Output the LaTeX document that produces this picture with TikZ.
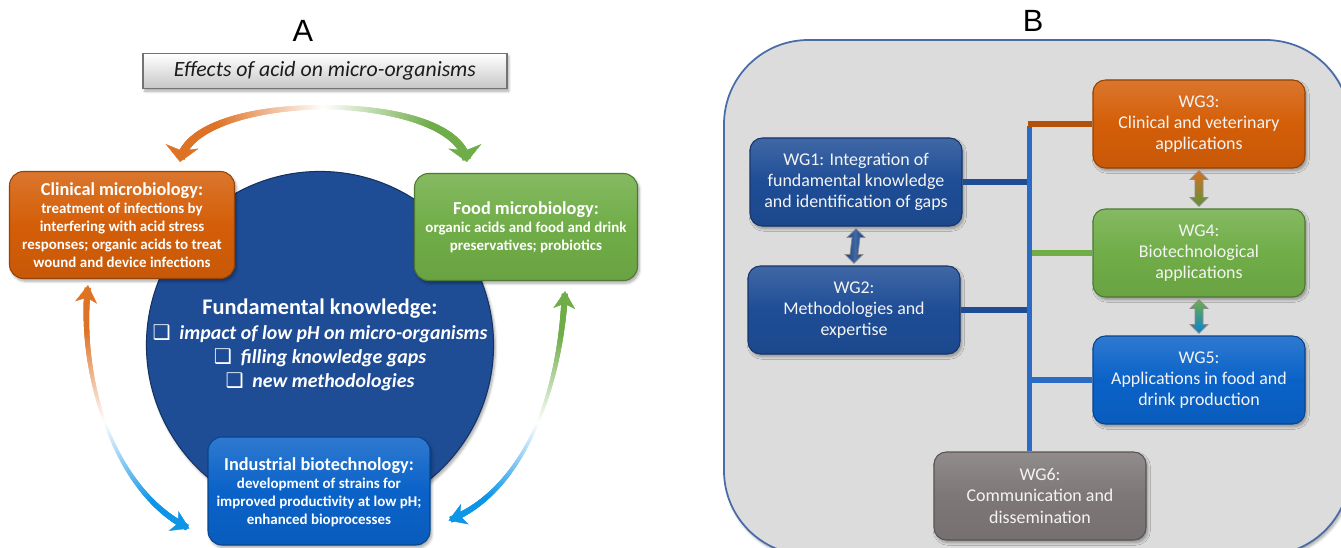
\documentclass[tikz,border=0pt]{standalone}
\usepackage{fontspec}
\setmainfont{Carlito}
\newfontfamily\panelfont{Liberation Sans}
\newfontfamily\boxglyph{DejaVu Sans}
\usepackage{tikz}
\usetikzlibrary{positioning,arrows.meta,calc,decorations.markings,shadows.blur}
\definecolor{ink}{HTML}{1C1C1C}
\definecolor{clinic}{HTML}{D45E08}
\definecolor{food}{HTML}{70AD47}
\definecolor{navy}{HTML}{1E4D96}
\definecolor{indus}{HTML}{0A62C8}
\definecolor{slate}{HTML}{7D7877}
\definecolor{panelbg}{HTML}{DCDCDC}
\definecolor{rim}{HTML}{4A6CA6}
\definecolor{bus}{HTML}{2A6BC6}
\definecolor{fadeor}{HTML}{DE7326}
\definecolor{fadegr}{HTML}{6EAD48}
\definecolor{fadebl}{HTML}{0E95E6}
\definecolor{paper}{HTML}{F4F4F4}
\tikzset{
  soft shadow/.style={blur shadow={shadow blur steps=6, shadow xshift=1pt,
    shadow yshift=-1.5pt, shadow blur radius=1.5pt, shadow opacity=35}},
  topic/.style={rounded corners=8pt, draw=#1!70!black, line width=0.6pt,
    top color=#1!85!white, bottom color=#1!94!black, middle color=#1,
    text=white, align=center, inner sep=2pt, soft shadow},
  field/.style={topic=#1, minimum width=44.6mm, minimum height=21.4mm,
    font=\bfseries\fontsize{8.5}{10.3}\selectfont},
  wg/.style={topic=#1, rounded corners=7pt, minimum width=42.4mm, minimum height=17.6mm,
    font=\fontsize{10.2}{12}\selectfont, text=paper},
  hub/.style={circle, fill=navy, draw=navy!65!black, line width=0.6pt, minimum size=69.2mm,
    inner sep=0pt, text=white, align=center, soft shadow,
    font=\bfseries\itshape\fontsize{11.3}{13.8}\selectfont},
  headline/.style={draw=black!55, line width=0.9pt, top color=white, bottom color=black!22,
    minimum width=72.8mm, minimum height=7mm, inner sep=0pt, text=ink, soft shadow,
    font=\itshape\fontsize{12.4}{14}\selectfont},
  panel label/.style={font=\panelfont\fontsize{17.5}{20}\selectfont, text=black},
  wire/.style={line width=3.3pt, color=#1},
  fade arc/.style n args={4}{postaction={decorate, decoration={markings,
    mark=between positions 0.015 and 0.985 step 0.004 with {
      \pgfmathsetmacro\fadet{\pgfkeysvalueof{/pgf/decoration/mark info/distance from start}/\pgfdecoratedpathlength}
      \pgfmathsetmacro\fadeu{abs(2*\fadet-1)}
      \pgfmathsetmacro\fadepct{min(100,150*\fadeu)}
      \pgfmathsetmacro\fadeh{(#4+(#3-#4)*\fadeu)/2}
      \ifdim\fadet pt<0.5pt\colorlet{fadec}{#1!\fadepct!white}\else\colorlet{fadec}{#2!\fadepct!white}\fi
      \fill[fadec] (-0.9pt,-\fadeh pt) rectangle (0.9pt,\fadeh pt);
    }}}},
}
\newcommand\squarebullet{{\boxglyph\upshape\mdseries\fontsize{11.5}{13.8}\selectfont ❑}\hspace{5pt}}
% double block arrow between two stacked groups
\newcommand\twoway[3]{%
  \path[#3, draw=black!45, line width=0.4pt]
    ($(#1.south)+(0,-2)$) -- ++(9,-9) -- ++(-5,0) -- ($(#2.north)+(4,11)$) -- ++(5,0)
    -- ($(#2.north)+(0,2)$) -- ++(-9,9) -- ++(5,0) -- ($(#1.south)+(-4,-11)$) -- ++(-5,0) -- cycle;
}

\begin{document}
\begin{tikzpicture}[x=0.2mm,y=0.2mm]
  \useasboundingbox (0,0) rectangle (1341,547);

  % ---- A: effects of acid
  \node[panel label] (labA) at (303,516) {A};
  \node[headline] (head) at (325,476) {Effects of acid on micro-organisms};

  \node[hub] (fund) at (320,202) {%
    {\upshape\fontsize{12.7}{13.8}\selectfont Fundamental knowledge:}\\
    \squarebullet impact of low pH on micro-organisms\\
    \squarebullet filling knowledge gaps\\
    \squarebullet new methodologies};

  \node[field=clinic, minimum width=45mm] (clin) at (122,322)
    {{\fontsize{10.4}{12}\selectfont Clinical microbiology:}\\treatment of infections by\\
     interfering with acid stress\\responses; organic acids to treat\\wound and device infections};
  \node[field=food] (food) at (526,320)
    {{\fontsize{10.4}{12}\selectfont Food microbiology:}\\organic acids and food and drink\\
     preservatives; probiotics};
  \node[field=indus, minimum width=44.4mm, minimum height=21.6mm, text depth=-5pt] (indu) at (319,56)
    {{\fontsize{10.4}{12}\selectfont Industrial biotechnology:}\\development of strains for\\
     improved productivity at low pH;\\enhanced bioprocesses};

  \draw[white, line width=0.2pt, fade arc={fadeor}{fadegr}{4.8}{2.2},
    {Stealth[length=9pt, width=19pt, inset=2.4pt, color=fadeor]}-{Stealth[length=9pt, width=19pt, inset=2.4pt, color=fadegr]}]
    ($(clin.north east)+(-55,9)$) .. controls +(10,73) and +(-10,73) .. ($(food.north west)+(53,11)$);
  \draw[white, line width=0.2pt, fade arc={fadeor}{fadebl}{3.6}{1.4},
    {Stealth[length=10pt, width=12.5pt, inset=2.8pt, color=fadeor]}-{Stealth[length=10pt, width=12.5pt, inset=2.8pt, color=fadebl]}]
    ($(clin.south)+(-34,-6)$) .. controls +(-10,-92) and +(-75,36) .. ($(indu.south west)+(-18,17)$);
  \draw[white, line width=0.2pt, fade arc={fadegr}{fadebl}{3.6}{1.4},
    {Stealth[length=10pt, width=12.5pt, inset=2.8pt, color=fadegr]}-{Stealth[length=10pt, width=12.5pt, inset=2.8pt, color=fadebl]}]
    ($(food.south)+(39,-10)$) .. controls +(-5,-107) and +(72,28) .. ($(indu.south east)+(18,25)$);

  % ---- B: working groups
  \node[panel label] (labB) at (1033,526) {B};
  \draw[rim, line width=1pt, fill=panelbg, rounded corners=48pt, soft shadow]
    (724,-8) rectangle (1350,507);

  \node[wg=navy] (WG1) at (856,365) {WG1: Integration of\\fundamental knowledge\\and identification of gaps};
  \node[wg=navy] (WG2) at (854,237) {WG2:\\Methodologies and\\expertise};
  \node[wg=clinic] (WG3) at (1199,423) {WG3:\\Clinical and veterinary\\applications};
  \node[wg=food] (WG4) at (1199,294) {WG4:\\Biotechnological\\applications};
  \node[wg=indus] (WG5) at (1199,167) {WG5:\\Applications in food and\\drink production};
  \node[wg=slate] (WG6) at (1040,51) {WG6:\\Communication and\\dissemination};

  \path (WG3.west) ++(-63,0) coordinate (bustop);
  \foreach \w/\c in {WG1/navy, WG2/navy, WG4/food, WG5/bus}
    \draw[wire=\c] (\w) -- (\w -| bustop);
  \draw[wire=bus] ($(bustop)+(0,-2)$) -- (bustop |- WG6.north);
  \draw[wire=clinic!85!black] ($(bustop)+(-1.6,0)$) -- (WG3);

  \twoway{WG1}{WG2}{left color=navy!80!black, right color=navy!80!black, middle color=navy!85!white}
  \twoway{WG3}{WG4}{top color=clinic!90!white, bottom color=food!85!black}
  \twoway{WG4}{WG5}{top color=food, bottom color=indus!80!cyan}
\end{tikzpicture}
\end{document}
